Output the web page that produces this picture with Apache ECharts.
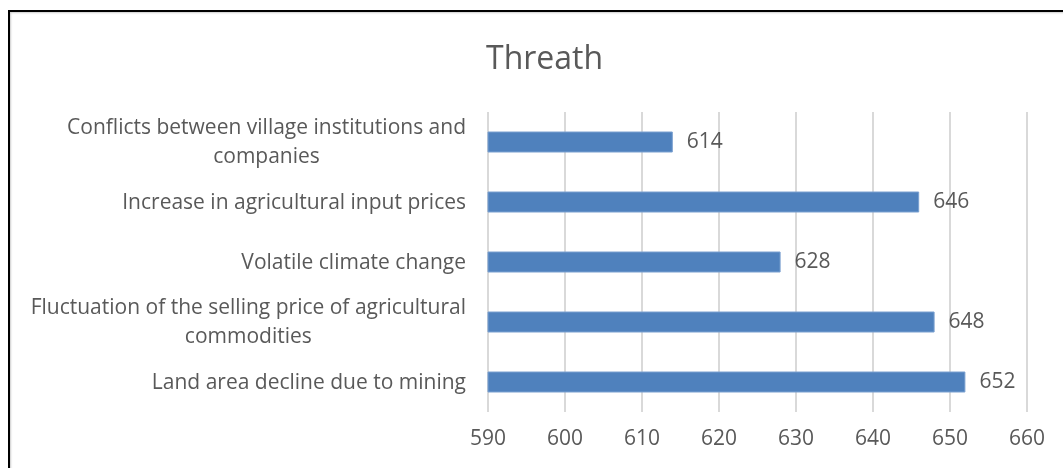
<!DOCTYPE html>
<html>
<head>
<meta charset="utf-8">
<script src="https://cdn.jsdelivr.net/npm/echarts@6/dist/echarts.min.js"></script>
<style>
    html, body { margin: 0; padding: 0; background: #fff; overflow: hidden; }
    #frame { position: absolute; left: 8px; top: 10px; width: 1200px; height: 600px;
             border-top: 2px solid #000; border-left: 2px solid #000; box-shadow: inset 1px 1px 2px #ccc; }
    #chart { position: absolute; left: 0; top: 0; width: 1063px; height: 468px; }
</style>
</head>
<body>
<div id="frame"></div>
<div id="chart"></div>
<script>
// categories bottom -> top (same order as the bars on the chart)
var categories = [
    "Land area decline due to mining",
    "Fluctuation of the selling price of agricultural\ncommodities",
    "Volatile climate change",
    "Increase in agricultural input prices",
    "Conflicts between village institutions and\ncompanies"
];
var values = [652, 648, 628, 646, 614];
var xTicks = [590, 600, 610, 620, 630, 640, 650, 660];

var FONT = "Open Sans";
var GREY = "#595959";

var chart = echarts.init(document.getElementById("chart"), null, {renderer: "canvas"});

var option = {
    animation: false,
    backgroundColor: "transparent",
    title: {
        text: "Threath",
        left: 481,
        top: 39,
        textStyle: {fontFamily: FONT, fontSize: 32, fontWeight: "normal", color: GREY}
    },
    grid: {
        left: 488,
        right: 36,
        top: 112,
        height: 300
    },
    xAxis: {
        type: "value",
        min: xTicks[0],
        max: xTicks[xTicks.length - 1],
        interval: 10,
        axisLine: {show: false},
        axisTick: {show: false},
        splitLine: {lineStyle: {color: "#d9d9d9", width: 2}},
        axisLabel: {fontFamily: FONT, fontSize: 21, color: GREY, margin: 17}
    },
    yAxis: {
        type: "category",
        data: categories,
        axisLine: {show: false},
        axisTick: {show: false},
        axisLabel: {
            margin: 22,
            align: "right",
            formatter: function (v) {
                //多行标签 每行居中
                return v.split("\n").map(function (l) { return "{c|" + l + "}"; }).join("\n");
            },
            rich: {
                c: {align: "center", fontFamily: FONT, fontSize: 21, color: GREY, lineHeight: 29, padding: [2, 0, 0, 0]}
            }
        }
    },
    series: [{
        type: "bar",
        data: values,
        barWidth: 21,
        itemStyle: {color: "#4f81bd", borderColor: "#7ba0d0", borderWidth: 1},
        label: {
            show: true,
            position: "right",
            distance: 14,
            fontFamily: FONT,
            fontSize: 21,
            color: GREY
        }
    }]
};

chart.setOption(option);
</script>
</body>
</html>
